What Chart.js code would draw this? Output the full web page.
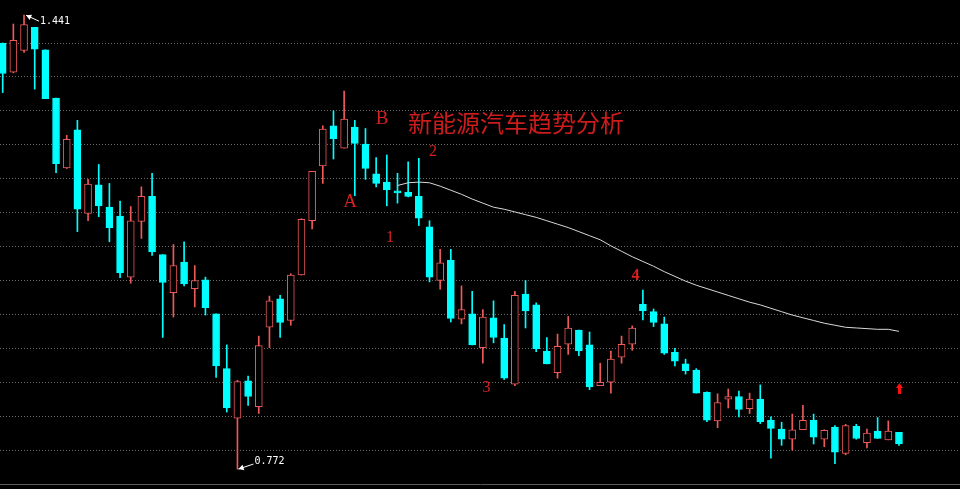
<!DOCTYPE html>
<html>
<head>
<meta charset="utf-8">
<script src="https://cdn.jsdelivr.net/npm/chart.js@4.4.1/dist/chart.umd.min.js"></script>
<style>
html, body { margin: 0; padding: 0; background: #000; }
#wrap { width: 960px; height: 489px; position: relative; background: #000; }
</style>
</head>
<body>
<div id="wrap"><canvas id="kChart"></canvas></div>
<script>
// daily candles
const opens = [1.400,1.357,1.389,1.423,1.390,1.319,1.216,1.272,1.149,1.191,
  1.158,1.145,1.055,1.137,1.174,1.088,1.032,1.077,1.038,1.051,
  1.001,0.920,0.847,0.902,0.864,0.981,1.023,0.991,1.058,1.138,
  1.219,1.278,1.245,1.276,1.251,1.207,1.195,1.182,1.180,1.174,
  1.129,1.050,1.080,0.993,1.001,0.951,0.995,0.965,0.897,1.030,
  1.014,0.946,0.914,0.956,0.977,0.955,0.895,0.900,0.937,0.956,
  1.015,1.004,0.986,0.944,0.927,0.918,0.885,0.843,0.875,0.879,
  0.861,0.875,0.844,0.831,0.816,0.830,0.844,0.816,0.834,0.795,
  0.835,0.811,0.828,0.815,0.826];
const highs = [1.400,1.428,1.441,1.423,1.390,1.319,1.264,1.286,1.199,1.221,
  1.193,1.167,1.159,1.188,1.208,1.088,1.103,1.107,1.072,1.055,
  1.001,0.955,0.903,0.909,0.968,1.027,1.028,1.060,1.141,1.211,
  1.278,1.300,1.329,1.286,1.274,1.231,1.235,1.208,1.225,1.230,
  1.138,1.096,1.096,1.042,1.034,1.007,1.020,0.985,1.034,1.050,
  1.017,0.966,0.971,0.997,0.977,0.974,0.928,0.946,0.968,0.983,
  1.036,1.008,0.996,0.950,0.934,0.920,0.886,0.883,0.890,0.887,
  0.884,0.896,0.849,0.841,0.853,0.866,0.853,0.830,0.836,0.838,
  0.838,0.831,0.848,0.843,0.826];
const lows = [1.327,1.356,1.386,1.332,1.318,1.209,1.215,1.122,1.138,1.144,
  1.107,1.054,1.046,1.112,1.087,0.966,0.996,1.042,1.011,0.999,
  0.907,0.856,0.772,0.866,0.854,0.951,0.966,0.984,1.058,1.126,
  1.193,1.229,1.245,1.175,1.199,1.188,1.160,1.164,1.173,1.131,
  1.048,1.037,0.989,0.986,0.955,0.928,0.958,0.904,0.895,0.980,
  0.945,0.927,0.906,0.941,0.939,0.889,0.895,0.884,0.928,0.947,
  0.992,0.982,0.941,0.924,0.912,0.884,0.842,0.833,0.862,0.849,
  0.854,0.839,0.788,0.807,0.800,0.830,0.809,0.805,0.780,0.793,
  0.816,0.803,0.817,0.815,0.807];
const closes = [1.355,1.404,1.427,1.391,1.318,1.222,1.258,1.155,1.192,1.160,
  1.128,1.061,1.138,1.174,1.092,1.047,1.072,1.045,1.050,1.010,
  0.924,0.862,0.901,0.879,0.954,1.020,0.988,1.058,1.140,1.211,
  1.273,1.259,1.288,1.252,1.215,1.193,1.184,1.179,1.174,1.142,
  1.055,1.076,0.994,1.007,0.955,0.996,0.966,0.906,1.028,1.005,
  0.949,0.927,0.953,0.980,0.946,0.893,0.900,0.934,0.956,0.980,
  1.005,0.988,0.943,0.931,0.917,0.884,0.844,0.870,0.879,0.860,
  0.875,0.842,0.832,0.816,0.830,0.844,0.819,0.829,0.797,0.836,
  0.817,0.825,0.817,0.828,0.809];

// moving average, starts at candle 37
const maStart = 37;
const maValues = [1.190,1.194,1.195,1.194,1.189,1.183,1.177,1.170,1.164,1.158,
  1.155,1.151,1.147,1.143,1.138,1.133,1.128,1.122,1.116,1.110,
  1.101,1.093,1.085,1.078,1.071,1.063,1.056,1.049,1.043,1.038,
  1.033,1.028,1.023,1.018,1.014,1.009,1.004,0.999,0.995,0.991,
  0.987,0.984,0.981,0.980,0.979,0.978,0.978,0.975];

const gridLevels = [0.80,0.85,0.90,0.95,1.00,1.05,1.10,1.15,1.20,1.25,1.30,1.35,1.40];

const UP = "#ee5a5a";
const DOWN = "#00ffff";

const isUp = opens.map((o, i) => closes[i] >= o);
const bodyData = opens.map((o, i) => ({ x: i, y: [o, closes[i]] }));
const wickData = opens.map((o, i) => ({ x: i, y: [lows[i], highs[i]] }));
const maData = maValues.map((v, k) => ({ x: maStart + k, y: v }));

function drawPointer(ctx, tx, ty, ex, ey, text, textY) {
  ctx.strokeStyle = "#ffffff";
  ctx.fillStyle = "#ffffff";
  ctx.lineWidth = 1;
  ctx.beginPath();
  ctx.moveTo(tx, ty);
  ctx.lineTo(ex, ey);
  ctx.stroke();
  const ang = Math.atan2(ey - ty, ex - tx);
  ctx.beginPath();
  ctx.moveTo(tx, ty);
  ctx.lineTo(tx + 6 * Math.cos(ang - 0.5), ty + 6 * Math.sin(ang - 0.5));
  ctx.lineTo(tx + 6 * Math.cos(ang + 0.5), ty + 6 * Math.sin(ang + 0.5));
  ctx.closePath();
  ctx.fill();
  ctx.font = '10px "DejaVu Sans Mono"';
  ctx.textAlign = "left";
  ctx.textBaseline = "middle";
  ctx.fillText(text, ex + 1, textY);
}

const notesPlugin = {
  id: "notes",
  afterDatasetsDraw(chart) {
    const { ctx } = chart;
    const xs = chart.scales.x, ys = chart.scales.y;
    ctx.save();

    const hi = Math.max(...highs), hiIdx = highs.indexOf(hi);
    const lo = Math.min(...lows), loIdx = lows.indexOf(lo);
    const hx = xs.getPixelForValue(hiIdx) + 2, hy = ys.getPixelForValue(hi);
    drawPointer(ctx, hx, hy, hx + 13, hy + 6, hi.toFixed(3), hy + 6);
    const lx = xs.getPixelForValue(loIdx) + 1, ly = ys.getPixelForValue(lo);
    drawPointer(ctx, lx, ly, lx + 15, ly - 5, lo.toFixed(3), ly - 8);

    ctx.fillStyle = "#d42020";
    ctx.textAlign = "center";
    ctx.textBaseline = "middle";
    ctx.font = '19px "Liberation Serif"';
    ctx.fillText("A", 350, 202);
    ctx.fillText("B", 382, 119);
    ctx.font = '16px "Liberation Serif"';
    ctx.fillText("2", 433, 152);
    ctx.fillText("1", 390, 238);
    ctx.fillText("3", 486.5, 388);
    ctx.font = 'bold 16px "Liberation Serif"';
    ctx.fillText("4", 635.5, 276);

    ctx.fillStyle = "#cc1c1c";
    ctx.textAlign = "left";
    ctx.font = '24px "Noto Sans CJK SC"';
    ctx.fillText("新能源汽车趋势分析", 408, 123);

    // red up arrow over the last candle
    const ax = Math.round(xs.getPixelForValue(opens.length - 1)) + 0.5;
    ctx.fillStyle = "#ff1010";
    ctx.beginPath();
    ctx.moveTo(ax, 383);
    ctx.lineTo(ax + 3.5, 388);
    ctx.lineTo(ax - 3.5, 388);
    ctx.closePath();
    ctx.fill();
    ctx.fillRect(ax - 1.5, 387, 3, 7);

    ctx.restore();
  }
};

new Chart(document.getElementById("kChart"), {
  data: {
    datasets: [
      {
        type: "line",
        label: "MA",
        data: maData,
        borderColor: "#d8d8d8",
        borderWidth: 1,
        pointRadius: 0,
        tension: 0,
        order: 0
      },
      {
        type: "bar",
        label: "body",
        data: bodyData,
        grouped: false,
        barThickness: 7,
        minBarLength: 1,
        borderWidth: 1,
        borderSkipped: false,
        borderColor: isUp.map(u => u ? UP : DOWN),
        backgroundColor: isUp.map(u => u ? "#000000" : DOWN),
        order: 1
      },
      {
        type: "bar",
        label: "wick",
        data: wickData,
        grouped: false,
        barThickness: 1,
        borderWidth: 0,
        backgroundColor: isUp.map(u => u ? UP : DOWN),
        order: 2
      }
    ]
  },
  options: {
    responsive: true,
    maintainAspectRatio: false,
    animation: false,
    layout: { padding: { top: 0, left: 0, right: 0, bottom: 5 } },
    plugins: {
      legend: { display: false },
      tooltip: { enabled: false }
    },
    scales: {
      x: {
        type: "linear",
        min: -0.253,
        max: 89.72,
        offset: false,
        grid: { display: false, drawTicks: false },
        ticks: { display: false },
        border: { display: true, color: "#5a5a5a", width: 1 }
      },
      y: {
        type: "linear",
        min: 0.75,
        max: 1.4634,
        afterBuildTicks: (scale) => {
          scale.ticks = gridLevels.map(v => ({ value: v }));
        },
        grid: { color: "#6a6a6a", drawTicks: false },
        border: { display: false, dash: [1, 2] },
        ticks: { display: false }
      }
    }
  },
  plugins: [notesPlugin]
});
</script>
</body>
</html>
